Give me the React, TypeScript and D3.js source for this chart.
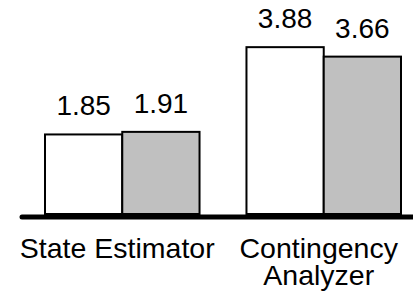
import { useEffect, useRef } from 'react';
import * as d3 from 'd3';

const categories = ['State Estimator', 'Contingency Analyzer'];
const categoryLines = [['State Estimator'], ['Contingency', 'Analyzer']];
const seriesA = [1.85, 3.88];
const seriesB = [1.91, 3.66];
const seriesNames = ['A', 'B'];
const seriesFills = ['#ffffff', '#c0c0c0'];

function App() {
    const svgRef = useRef<SVGSVGElement>(null);

    useEffect(() => {
        const width = 413;
        const height = 299;
        const baseY = 214;
        const font = '"Liberation Sans", Arial, sans-serif';

        d3.select(svgRef.current).selectAll('*').remove();

        const svg = d3.select(svgRef.current)
            .attr('width', width)
            .attr('height', height);

        const xGroup = d3.scaleBand()
            .domain(categories)
            .range([45, 401])
            .paddingInner(0.233)
            .paddingOuter(0);

        const xSeries = d3.scaleBand()
            .domain(seriesNames)
            .range([0, xGroup.bandwidth()]);

        const y = d3.scaleLinear()
            .domain([0, 4])
            .range([baseY, baseY - 4 * 43]);

        // flatten the two series into one list of bars
        const bars = categories.flatMap((c, i) => [
            { category: c, series: 'A', value: seriesA[i], fill: seriesFills[0] },
            { category: c, series: 'B', value: seriesB[i], fill: seriesFills[1] },
        ]);

        const groups = svg.selectAll('g.group')
            .data(categories)
            .join('g')
            .attr('class', 'group')
            .attr('transform', d => `translate(${xGroup(d)}, 0)`);

        groups.selectAll('rect')
            .data(c => bars.filter(b => b.category === c))
            .join('rect')
            .attr('x', d => xSeries(d.series)!)
            .attr('y', d => y(d.value))
            .attr('width', xSeries.bandwidth())
            .attr('height', d => baseY - y(d.value))
            .attr('fill', d => d.fill)
            .attr('stroke', '#000')
            .attr('stroke-width', 2);

        groups.selectAll('text.value')
            .data(c => bars.filter(b => b.category === c))
            .join('text')
            .attr('class', 'value')
            .attr('x', d => xSeries(d.series)! + xSeries.bandwidth() / 2)
            .attr('y', d => y(d.value) - 19)
            .attr('text-anchor', 'middle')
            .attr('font-family', font)
            .attr('font-size', 28)
            .attr('fill', '#000')
            .text(d => d.value.toFixed(2));

        // thick baseline, runs off the right edge
        svg.append('line')
            .attr('x1', 22)
            .attr('x2', width + 5)
            .attr('y1', baseY + 3)
            .attr('y2', baseY + 3)
            .attr('stroke', '#000')
            .attr('stroke-width', 5)
            .attr('stroke-linecap', 'round');

        const labels = svg.selectAll('text.cat')
            .data(categories)
            .join('text')
            .attr('class', 'cat')
            .attr('x', d => xGroup(d)! + xGroup.bandwidth() / 2 - 5)
            .attr('y', 258)
            .attr('text-anchor', 'middle')
            .attr('font-family', font)
            .attr('font-size', 28.5)
            .attr('fill', '#000');

        labels.selectAll('tspan')
            .data((d, i) => categoryLines[i])
            .join('tspan')
            .attr('x', function () {
                return (this.parentNode as SVGTextElement).getAttribute('x');
            })
            .attr('dy', (d, i) => (i === 0 ? 0 : 27))
            .text(d => d);
    }, []);

    return (
        <svg ref={svgRef} style={{ position: 'absolute', left: 0, top: 0 }} />
    );
}

export default App;
